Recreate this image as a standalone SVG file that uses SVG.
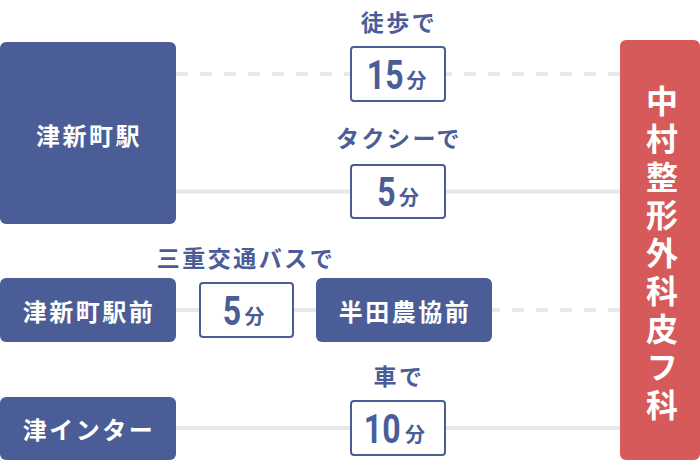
<svg xmlns="http://www.w3.org/2000/svg" width="700" height="460" viewBox="0 0 700 460">
<style>
.node{fill:#4b5d96}
.dest{fill:#d65a5a}
.tbox{fill:#ffffff;stroke:#4b5d96;stroke-width:2}
.line{stroke:#e8e8e8;stroke-width:4;fill:none}
.dash{stroke-dasharray:12 12}
.wt{font-family:"Noto Sans CJK JP","Noto Sans CJK SC",sans-serif;font-weight:700;fill:#ffffff;font-size:24px;letter-spacing:2.5px;text-anchor:middle;dominant-baseline:central}
.lbl{font-family:"Noto Sans CJK JP","Noto Sans CJK SC",sans-serif;font-weight:700;fill:#4b5d96;font-size:23px;letter-spacing:2.5px;text-anchor:middle;dominant-baseline:central}
.num{font-family:Roboto,"Liberation Sans",sans-serif;font-weight:700;fill:#4b5d96;font-size:40px;text-anchor:end}
.min{font-family:"Noto Sans CJK JP","Noto Sans CJK SC",sans-serif;font-weight:700;fill:#4b5d96;font-size:20px}
.rt{font-family:"Noto Sans CJK JP","Noto Sans CJK SC",sans-serif;font-weight:700;fill:#ffffff;font-size:32px;letter-spacing:6px;writing-mode:vertical-rl}
</style>
<defs><clipPath id="c3"><rect x="492" y="300" width="128" height="20"/></clipPath></defs>
<g id="connectors">
<line class="line dash" x1="176" y1="74" x2="620" y2="74"/>
<line class="line" x1="176" y1="191.5" x2="620" y2="191.5"/>
<line class="line" x1="176" y1="310" x2="316" y2="310"/>
<line class="line dash" x1="176" y1="310" x2="620" y2="310" clip-path="url(#c3)"/>
<line class="line" x1="176" y1="428" x2="620" y2="428"/>
</g>
<g id="tsushinmachi">
<rect class="node" x="0" y="42" width="176" height="182" rx="6"/>
<text class="wt" x="89" y="134">津新町駅</text>
</g>
<g id="tsushinmachi-mae">
<rect class="node" x="0" y="278" width="176" height="64" rx="6"/>
<text class="wt" x="89" y="310">津新町駅前</text>
</g>
<g id="handa-nokyo-mae">
<rect class="node" x="316" y="278" width="176" height="64" rx="6"/>
<text class="wt" x="405" y="310">半田農協前</text>
</g>
<g id="tsu-ic">
<rect class="node" x="0" y="397" width="176" height="63" rx="6"/>
<text class="wt" x="89" y="428">津インター</text>
</g>
<g id="nakamura-clinic">
<rect class="dest" x="620" y="40" width="80" height="420" rx="6"/>
<text class="rt" x="662" y="85">中村整形外科皮フ科</text>
</g>
<g id="walk">
<text class="lbl" x="399" y="21">徒歩で</text>
<rect class="tbox" x="351" y="47" width="94" height="54" rx="3"/>
<text class="num" transform="translate(403.5 88.5) scale(0.8 1)">15</text>
<text class="min" x="406.5" y="87.5">分</text>
</g>
<g id="taxi">
<text class="lbl" x="399" y="137">タクシーで</text>
<rect class="tbox" x="351" y="165" width="94" height="53" rx="3"/>
<text class="num" transform="translate(395.5 206) scale(0.8 1)">5</text>
<text class="min" x="399" y="205">分</text>
</g>
<g id="bus">
<text class="lbl" x="246" y="257">三重交通バスで</text>
<rect class="tbox" x="200" y="283" width="93" height="54" rx="3"/>
<text class="num" transform="translate(241 324.5) scale(0.8 1)">5</text>
<text class="min" x="244.5" y="323.5">分</text>
</g>
<g id="car">
<text class="lbl" x="399" y="375">車で</text>
<rect class="tbox" x="351" y="401" width="94" height="54" rx="3"/>
<text class="num" transform="translate(400.5 442.5) scale(0.8 1)">10</text>
<text class="min" x="405" y="441.5">分</text>
</g>
</svg>
